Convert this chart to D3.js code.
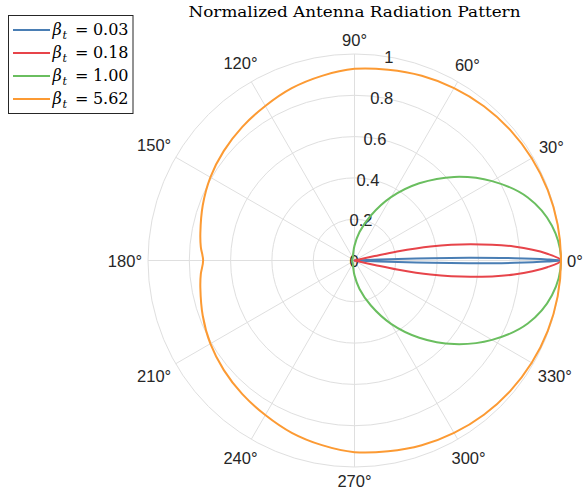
<!DOCTYPE html>
<html>
<head>
<meta charset="utf-8">
<script src="https://cdn.jsdelivr.net/npm/d3@7"></script>
<style>
html,body{margin:0;padding:0;background:#fff;}
svg{display:block;}
</style>
</head>
<body>
<svg id="chart" width="583" height="495"></svg>
<script>
// ---- data ----
const seriesNames = ["0.03", "0.18", "1.00", "5.62"];
const seriesColors = ["#4a7eb4", "#e7444a", "#6abe5f", "#fc9a33"];

// beta_t = 0.03 (very narrow beam)
const blueAngles = [0, 0.33, 0.83, 1.33, 1.75, 2.0, 2.1, -2.1, -2.0, -1.75, -1.33, -0.83, -0.33];
const blueRadii  = [1, 0.934, 0.775, 0.567, 0.374, 0.211, 0, 0, 0.211, 0.374, 0.567, 0.775, 0.934];

// beta_t = 0.18
const redAngles = [0, 2, 5, 8, 10.5, 12, 12.4, 12.6, -12.6, -12.4, -12, -10.5, -8, -5, -2];
const redRadii  = [1, 0.934, 0.775, 0.567, 0.374, 0.211, 0.1, 0, 0, 0.1, 0.211, 0.374, 0.567, 0.775, 0.934];

// beta_t = 1.00
const greenAngles = [0, 10, 20, 30, 40, 50, 60, 70, 80, 90, 100, 110, 120, 140, 160, 180,
                     200, 220, 240, 250, 260, 270, 280, 290, 300, 310, 320, 330, 340, 350];
const greenRadii  = [1.000, 0.971, 0.893, 0.769, 0.630, 0.488, 0.354, 0.232, 0.140, 0.072, 0.036, 0.022, 0.016, 0.013, 0.012, 0.011,
                     0.012, 0.013, 0.016, 0.022, 0.036, 0.072, 0.140, 0.232, 0.354, 0.488, 0.630, 0.769, 0.893, 0.971];

// beta_t = 5.62 (nearly isotropic, dimple at 180 deg)
const orangeAngles = [0, 10, 20, 30, 40, 50, 60, 70, 80, 90, 100, 110, 120, 130, 140, 150, 160, 170, 175, 180,
                      185, 190, 200, 210, 220, 230, 240, 250, 260, 270, 280, 290, 300, 310, 320, 330, 340, 350];
const orangeRadii  = [1.000, 0.999, 0.996, 0.991, 0.984, 0.975, 0.964, 0.952, 0.938, 0.928, 0.908, 0.888, 0.864, 0.845, 0.826, 0.806, 0.782, 0.758, 0.747, 0.733,
                      0.747, 0.758, 0.782, 0.806, 0.826, 0.845, 0.864, 0.888, 0.908, 0.928, 0.938, 0.952, 0.964, 0.975, 0.984, 0.991, 0.996, 0.999];

const radialTicks = [0, 0.2, 0.4, 0.6, 0.8, 1];
const radialTickLabels = ["0", "0.2", "0.4", "0.6", "0.8", "1"];
const thetaTicks = [0, 30, 60, 90, 120, 150, 180, 210, 240, 270, 300, 330];
const thetaTickLabels = thetaTicks.map(d => d + "°");
const titleText = "Normalized Antenna Radiation Pattern";

// ---- layout ----
const svg = d3.select("#chart");
const cx = 354.5, cy = 260.5, R = 206.5;
const r = d3.scaleLinear().domain([0, 1]).range([0, R]);
const toRad = d => (90 - d) * Math.PI / 180; // d3 radial angle from polar degrees

const g = svg.append("g").attr("transform", `translate(${cx},${cy})`);
const gridColor = "#dfdfdf";
const textColor = "#262626";

// grid circles
g.selectAll("circle.grid").data(radialTicks.filter(d => d > 0)).join("circle")
  .attr("r", d => r(d)).attr("fill", "none")
  .attr("stroke", gridColor).attr("stroke-width", 1);

// spokes
g.selectAll("line.spoke").data(thetaTicks).join("line")
  .attr("x1", 0).attr("y1", 0)
  .attr("x2", d => r(1) * Math.cos(d * Math.PI / 180))
  .attr("y2", d => -r(1) * Math.sin(d * Math.PI / 180))
  .attr("stroke", gridColor).attr("stroke-width", 1);

// theta labels
const rho0 = 212.5;
const tl = g.selectAll("text.theta").data(thetaTicks).join("text")
  .attr("font-family", "'Liberation Sans', Arial, sans-serif")
  .attr("font-size", 16.5).attr("fill", textColor)
  .attr("text-anchor", "middle").attr("dominant-baseline", "central")
  .text((d, i) => thetaTickLabels[i]);
tl.each(function(d) {
  const bb = this.getBBox();
  const a = d * Math.PI / 180;
  const c = Math.cos(a), s = Math.sin(a);
  const support = Math.abs(c) * bb.width / 2 + Math.abs(s) * bb.height * 0.45;
  const rr = rho0 + support;
  d3.select(this).attr("x", rr * c).attr("y", -rr * s);
});

// radial labels along 80 deg
const rlAng = 80.3 * Math.PI / 180;
g.selectAll("text.rlab").data(radialTicks).join("text")
  .attr("font-family", "'Liberation Sans', Arial, sans-serif")
  .attr("font-size", 16.5).attr("fill", textColor)
  .attr("text-anchor", "middle").attr("dominant-baseline", "central")
  .attr("x", d => r(d) * Math.cos(rlAng) - 0.5)
  .attr("y", d => -r(d) * Math.sin(rlAng) + 0.5)
  .text((d, i) => radialTickLabels[i]);

// series
const series = [
  {a: blueAngles, r: blueRadii},
  {a: redAngles, r: redRadii},
  {a: greenAngles, r: greenRadii},
  {a: orangeAngles, r: orangeRadii}
];
const line = d3.lineRadial()
  .angle(p => toRad(p[0])).radius(p => r(p[1]))
  .curve(d3.curveCatmullRomClosed.alpha(0.5));
series.forEach((s, i) => {
  const pts = s.a.map((a, k) => [a, s.r[k]]);
  g.append("path").datum(pts).attr("d", line)
    .attr("fill", "none").attr("stroke", seriesColors[i])
    .attr("stroke-width", 2).attr("stroke-linejoin", "round");
});

// title
const title = svg.append("text")
  .attr("x", cx).attr("y", 17).attr("text-anchor", "middle")
  .attr("font-family", "'DejaVu Serif', serif").attr("font-size", 15)
  .attr("fill", "#000").text(titleText);
const tw = title.node().getComputedTextLength();
if (Math.abs(tw - 332) > 4) title.attr("textLength", 332).attr("lengthAdjust", "spacingAndGlyphs");

// legend
const lg = svg.append("g");
lg.append("rect").attr("x", 8.5).attr("y", 15.5).attr("width", 124.5).attr("height", 98)
  .attr("fill", "#fff").attr("stroke", "#262626").attr("stroke-width", 1);
seriesNames.forEach((nm, i) => {
  const y = 30 + i * 23;
  lg.append("line").attr("x1", 13).attr("x2", 50).attr("y1", y).attr("y2", y)
    .attr("stroke", seriesColors[i]).attr("stroke-width", 2);
  const base = y + 5;
  lg.append("text").attr("x", 52.5).attr("y", base)
    .attr("font-family", "'DejaVu Serif', serif").attr("font-style", "italic")
    .attr("font-size", 16).attr("fill", "#000").text("β");
  lg.append("text").attr("x", 62.5).attr("y", base + 3.5)
    .attr("font-family", "'DejaVu Serif', serif").attr("font-style", "italic")
    .attr("font-size", 11).attr("fill", "#000").text("t");
  lg.append("text").attr("x", 75).attr("y", base)
    .attr("font-family", "'DejaVu Serif', serif")
    .attr("font-size", 16).attr("fill", "#000").text("=");
  lg.append("text").attr("x", 128.5).attr("y", base).attr("text-anchor", "end")
    .attr("font-family", "'DejaVu Serif', serif")
    .attr("font-size", 16).attr("fill", "#000").text(nm);
});
</script>
</body>
</html>
